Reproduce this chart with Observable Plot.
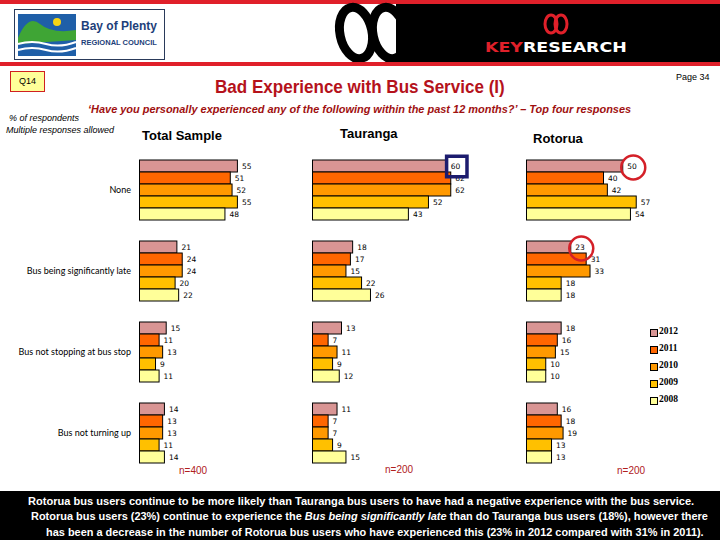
<!DOCTYPE html>
<html><head><meta charset="utf-8">
<script src="https://cdn.jsdelivr.net/npm/d3@7"></script>
<script src="https://cdn.jsdelivr.net/npm/@observablehq/plot@0.6"></script>
<style>
body{margin:0;width:720px;height:540px;position:relative;overflow:hidden;background:#fff;font-family:"Liberation Sans",Arial,sans-serif}
.abs{position:absolute}
</style></head>
<body>
<script>
// ---------------- data ----------------
const categories = ["None", "Bus being significantly late", "Bus not stopping at bus stop", "Bus not turning up"];
const years = ["2012", "2011", "2010", "2009", "2008"];
const colors = ["#d99594", "#ff6600", "#ff9900", "#ffc000", "#ffff99"];
const totalValues    = [[55, 51, 52, 55, 48], [21, 24, 24, 20, 22], [15, 11, 13, 9, 11], [14, 13, 13, 11, 14]];
const taurangaValues = [[60, 62, 62, 52, 43], [18, 17, 15, 22, 26], [13, 7, 11, 9, 12], [11, 7, 7, 9, 15]];
const rotoruaValues  = [[50, 40, 42, 57, 54], [23, 31, 33, 18, 18], [18, 16, 15, 10, 10], [16, 18, 19, 13, 13]];
const panelTitles = ["Total Sample", "Tauranga", "Rotorua"];
const sampleSizes = ["n=400", "n=200", "n=200"];
const taurangaHighlight = [{category: "None", year: "2012"}];
const rotoruaHighlight = [{category: "None", year: "2012"}, {category: "Bus being significantly late", year: "2012"}];

function rows(values) {
  const out = [];
  categories.forEach((c, i) => years.forEach((y, j) => out.push({category: c, year: y, value: values[i][j]})));
  return out;
}
function lookup(values, list) {
  return list.map(h => ({...h, value: values[categories.indexOf(h.category)][years.indexOf(h.year)]}));
}

// ---------------- header ----------------
document.body.insertAdjacentHTML("beforeend", `
<svg class="abs" style="left:0;top:0" width="720" height="68">
  <rect x="0" y="0" width="720" height="4" fill="#e0202a"/>
  <rect x="396" y="4" width="324" height="58" fill="#000"/>
  <ellipse cx="356" cy="33" rx="16" ry="26" fill="none" stroke="#000" stroke-width="9" transform="rotate(-12 356 33)"/>
  <ellipse cx="389" cy="33" rx="16" ry="26" fill="none" stroke="#000" stroke-width="9" transform="rotate(-12 389 33)"/>
  <rect x="0" y="62" width="720" height="4" fill="#e0202a"/>
  <rect x="14.5" y="9.5" width="150" height="50" fill="#fff" stroke="#2a3a5a"/>
  <rect x="18" y="14" width="58" height="42" fill="#1f5fa8"/>
  <path d="M18 38 Q28 14 40 24 Q52 34 76 30 L76 40 L18 44 Z" fill="#3fa535"/>
  <path d="M18 44 Q32 40 46 44 T76 42" stroke="#fff" stroke-width="2" fill="none"/>
  <path d="M18 50 Q32 46 46 50 T76 48" stroke="#fff" stroke-width="2" fill="none"/>
  <circle cx="57" cy="22" r="4" fill="#f6d415"/>
  <text class="fit" data-x="81" data-w="76" y="30" font-size="12.5" font-weight="bold" fill="#1d3f7a">Bay of Plenty</text>
  <text class="fit" data-x="81" data-w="76" y="45" font-size="8" font-weight="bold" fill="#1d3f7a">REGIONAL COUNCIL</text>
  <ellipse cx="551" cy="24" rx="6" ry="9" fill="none" stroke="#e0202a" stroke-width="3"/>
  <ellipse cx="561" cy="24" rx="6" ry="9" fill="none" stroke="#e0202a" stroke-width="3"/>
  <text class="fit" data-x="485" data-w="142" y="52" font-size="14" font-weight="bold" font-family="DejaVu Sans, sans-serif"><tspan fill="#e0202a">KEY</tspan><tspan fill="#fff">RESEARCH</tspan></text>
</svg>
<div class="abs" style="left:10px;top:71px;width:33px;height:19px;background:#ffff99;border:1px solid #d02020;font-size:9px;line-height:19px;text-align:center">Q14</div>
<div class="abs" style="left:676px;top:72px;font-size:9px">Page 34</div>
<svg class="abs" style="left:0;top:70px" width="720" height="45">
  <text class="fit" data-x="215" data-w="290" y="23" font-size="18" font-weight="bold" fill="#b5121b">Bad Experience with Bus Service (I)</text>
  <text class="fit" data-x="88" data-w="544" y="43" font-size="11.5" font-weight="bold" font-style="italic" fill="#a01010">‘Have you personally experienced any of the following within the past 12 months?’ – Top four responses</text>
</svg>
<div class="abs" style="left:9px;top:113px;font-size:9px;font-style:italic">% of respondents</div>
<div class="abs" style="left:6px;top:125px;font-size:9px;font-style:italic">Multiple responses allowed</div>
<div class="abs" style="left:142px;top:128px;font-size:13px;font-weight:bold">${panelTitles[0]}</div>
<div class="abs" style="left:340px;top:126px;font-size:13px;font-weight:bold">${panelTitles[1]}</div>
<div class="abs" style="left:533px;top:131px;font-size:13px;font-weight:bold">${panelTitles[2]}</div>
`);

// ---------------- panels ----------------
function panel(values, opts) {
  const data = rows(values);
  const marks = [
    Plot.barX(data, {x: "value", y: "year", fy: "category", fill: "year", stroke: "#000", strokeWidth: 1}),
    Plot.text(data, {x: "value", y: "year", fy: "category", text: d => String(d.value), dx: 4, textAnchor: "start",
      fontFamily: "DejaVu Sans, sans-serif", fontSize: 7.5, fill: "#000"})
  ];
  if (opts.rects) marks.push(Plot.dot(opts.rects, {x: "value", y: "year", fy: "category", symbol: "square", r: 11.5, dx: 10,
      stroke: "#1c1c6e", strokeWidth: 3.5, fill: "none"}));
  if (opts.circles) marks.push(Plot.dot(opts.circles, {x: "value", y: "year", fy: "category", r: 12, dx: 10, dy: 1,
      stroke: "#d42028", strokeWidth: 2.5, fill: "none"}));
  const svg = Plot.plot({
    width: opts.width, height: 330,
    marginTop: 9, marginBottom: 16, marginLeft: opts.left, marginRight: 0,
    style: {background: "transparent", overflow: "visible", fontFamily: "Lato, 'Open Sans', sans-serif", fontSize: "9px"},
    x: {domain: [0, 80], range: [opts.left, opts.left + 80 * opts.ppu], axis: null},
    y: {domain: years, padding: 0, axis: null},
    fy: {domain: categories, paddingInner: 0.237, paddingOuter: 0, axis: opts.axis ? "left" : null, label: null, tickSize: 0, tickPadding: 9},
    color: {domain: years, range: colors},
    marks
  });
  svg.style.position = "absolute";
  svg.style.left = opts.x + "px";
  svg.style.top = "150px";
  document.body.appendChild(svg);
}
panel(totalValues, {x: 0, width: 300, left: 139.5, ppu: 1.78, axis: true});
panel(taurangaValues, {x: 300, width: 200, left: 12.5, ppu: 2.23, rects: lookup(taurangaValues, taurangaHighlight)});
panel(rotoruaValues, {x: 500, width: 150, left: 26.5, ppu: 1.925, circles: lookup(rotoruaValues, rotoruaHighlight)});

// ---------------- legend, n labels, footer ----------------
document.body.insertAdjacentHTML("beforeend",
  years.map((y, i) => `<div class="abs" style="left:650px;top:${329 + i * 17}px;width:6px;height:6px;background:${colors[i]};border:1px solid #000"></div>
  <div class="abs" style="left:659px;top:${326 + i * 17}px;font-family:'Liberation Serif',serif;font-size:9.5px;font-weight:bold">${y}</div>`).join("") +
  `<div class="abs" style="left:179px;top:465px;font-size:10px;color:#b0201c">${sampleSizes[0]}</div>
   <div class="abs" style="left:385px;top:464px;font-size:10px;color:#b0201c">${sampleSizes[1]}</div>
   <div class="abs" style="left:617px;top:465px;font-size:10px;color:#b0201c">${sampleSizes[2]}</div>
   <svg class="abs" style="left:0;top:491px" width="720" height="49">
     <rect x="0" y="0" width="720" height="49" fill="#000"/>
     <g fill="#fff" font-size="11.5" font-weight="bold">
       <text class="fit" data-x="28" data-w="667" y="14">Rotorua bus users continue to be more likely than Tauranga bus users to have had a negative experience with the bus service.</text>
       <text class="fit" data-x="31" data-w="678" y="29.5">Rotorua bus users (23%) continue to experience the <tspan font-style="italic">Bus being significantly late</tspan> than do Tauranga bus users (18%), however there</text>
       <text class="fit" data-x="46" data-w="658" y="45">has been a decrease in the number of Rotorua bus users who have experienced this (23% in 2012 compared with 31% in 2011).</text>
     </g>
   </svg>`);

// condense texts horizontally to the reference widths
document.querySelectorAll("text.fit").forEach(t => {
  const natural = t.getComputedTextLength();
  const s = +t.dataset.w / natural;
  t.setAttribute("x", 0);
  t.setAttribute("transform", `translate(${t.dataset.x},0) scale(${s},1)`);
});
</script>
</body></html>
